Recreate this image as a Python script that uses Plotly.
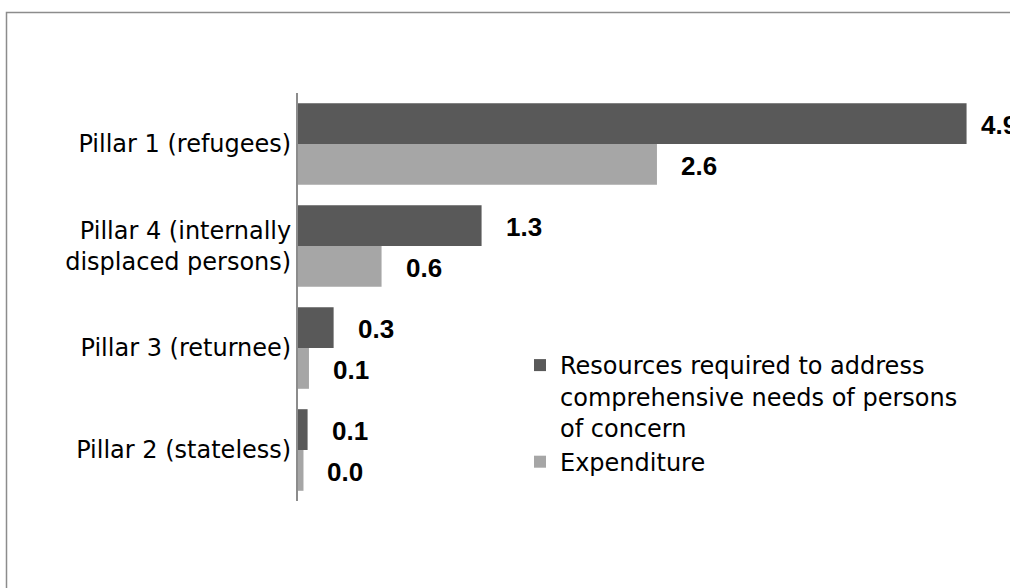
import plotly.graph_objects as go

categories = ["Pillar 1 (refugees)",
              "Pillar 4 (internally<br>displaced persons)",
              "Pillar 3 (returnee)",
              "Pillar 2 (stateless)"]
resources = [4.88, 1.34, 0.26, 0.07]
expenditure = [2.62, 0.61, 0.08, 0.04]
series_names = ["Resources required to address<br>comprehensive needs of persons<br>of concern",
                "Expenditure"]

W, H = 1010, 588
L, R, T, B = 298, 0, 93, 87
XMAX = 5.197

DARK = "#595959"
LIGHT = "#a6a6a6"
REG_FONT = "DejaVu Sans"
BOLD_FONT = "Liberation Sans"

fig = go.Figure()
fig.add_trace(go.Bar(y=categories, x=resources, orientation="h", name=series_names[0],
                     marker=dict(color=DARK, line=dict(width=0))))
fig.add_trace(go.Bar(y=categories, x=expenditure, orientation="h", name=series_names[1],
                     marker=dict(color=LIGHT, line=dict(width=0))))

pw = W - L - R
ph = H - T - B

def px_to_paper_x(px):
    return (px - L) / pw

def px_to_paper_y(py):
    return (H - B - py) / ph

# value labels
annos = []
for series, yshift in ((resources, 19), (expenditure, -22)):
    for cat, v in zip(categories, series):
        xs = 22
        if v > 4:
            xs = 12
        annos.append(dict(x=v, y=cat, xref="x", yref="y", text=f"<b>{v:.1f}</b>",
                          showarrow=False, xanchor="left", yanchor="middle",
                          xshift=xs, yshift=yshift,
                          font=dict(family=BOLD_FONT, size=26, color="#000000")))

fig.update_layout(
    width=W, height=H,
    margin=dict(l=L, r=R, t=T, b=B, pad=0),
    paper_bgcolor="white", plot_bgcolor="white",
    barmode="group", bargap=0.2, bargroupgap=0,
    showlegend=True,
    legend=dict(x=px_to_paper_x(520), y=px_to_paper_y(343), xanchor="left", yanchor="top",
                traceorder="normal", valign="top", bgcolor="rgba(0,0,0,0)",
                font=dict(family=REG_FONT, size=24, color="#000000"),
                tracegroupgap=0, itemclick=False),
    xaxis=dict(range=[0, XMAX], showticklabels=False, showgrid=False, zeroline=False,
               showline=False, ticks=""),
    yaxis=dict(autorange="reversed", showgrid=False, zeroline=False, showline=True,
               linecolor="#8c8c8c", linewidth=2, ticks="", ticklabelstandoff=0,
               tickfont=dict(family=REG_FONT, size=24, color="#000000")),
    annotations=annos,
    shapes=[dict(type="rect", xref="paper", yref="paper",
                 x0=px_to_paper_x(6.5), x1=px_to_paper_x(1030),
                 y0=px_to_paper_y(620), y1=px_to_paper_y(12.5),
                 line=dict(color="#8c8c8c", width=1.5), fillcolor="rgba(0,0,0,0)",
                 layer="below")],
)

fig.write_html("out.html",
               config={"displayModeBar": False},
               post_script="document.body.style.margin='0';document.body.style.overflow='hidden';")
